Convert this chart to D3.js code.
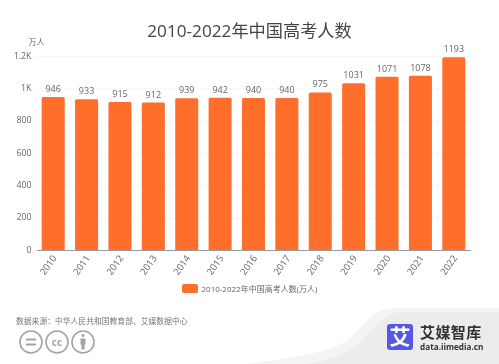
<!DOCTYPE html>
<html>
<head>
<meta charset="utf-8">
<script src="https://cdn.jsdelivr.net/npm/d3@7"></script>
<style>
  html, body { margin: 0; padding: 0; background: #fff; }
  svg { display: block; filter: blur(0.3px); }
  text { font-family: "Open Sans", "Noto Sans CJK SC", sans-serif; }
</style>
</head>
<body>
<svg id="chart" width="499" height="364"></svg>
<script>
const years = ['2010', '2011', '2012', '2013', '2014', '2015', '2016', '2017', '2018', '2019', '2020', '2021', '2022'];
const applicants = [946, 933, 915, 912, 939, 942, 940, 940, 975, 1031, 1071, 1078, 1193];
const yTicks = [0, 200, 400, 600, 800, 1000, 1200];
const yTickLabels = ['0', '200', '400', '600', '800', '1K', '1.2K'];

const titleText = '2010-2022年中国高考人数';
const unitText = '万人';
const legendText = '2010-2022年中国高考人数(万人)';
const sourceText = '数据来源：中华人民共和国教育部、艾媒数据中心';

const orange = '#ff6f2b';
const margin = {top: 56, right: 28.5, bottom: 114, left: 36.5};
const width = 499, height = 364;

const svg = d3.select('#chart');

// footer background goes under everything
svg.append('path')
  .attr('d', 'M499,308 L396,308 C374,308 365,323 350,338 C330,354 290,358 245,364 L499,364 Z')
  .attr('fill', '#f4f4f4');
svg.append('path')
  .attr('d', 'M499,312 L402,312 C384,312 375,328 360,343 C346,355 330,360 305,364 L499,364 Z')
  .attr('fill', '#ececec');

const x = d3.scaleBand().domain(years)
  .range([margin.left, width - margin.right]).paddingInner(0.31).paddingOuter(0.155);
const y = d3.scaleLinear().domain([0, 1200]).range([height - margin.bottom, margin.top]);

// grid
svg.append('g').selectAll('line').data(yTicks.slice(1)).join('line')
  .attr('x1', margin.left).attr('x2', width - margin.right)
  .attr('y1', d => y(d) + 0.5).attr('y2', d => y(d) + 0.5)
  .attr('stroke', '#ececec').attr('stroke-dasharray', '2,2');

// bars
svg.append('g').selectAll('path').data(applicants).join('path')
  .attr('fill', orange)
  .attr('d', (d, i) => {
    const x0 = x(years[i]), x1 = x0 + x.bandwidth(), top = y(d), r = 1.5;
    return `M${x0},${y(0)}V${top + r}Q${x0},${top} ${x0 + r},${top}H${x1 - r}Q${x1},${top} ${x1},${top + r}V${y(0)}Z`;
  });

// value labels
svg.append('g').selectAll('text').data(applicants).join('text')
  .attr('x', (d, i) => x(years[i]) + x.bandwidth() / 2)
  .attr('y', d => y(d) - 5)
  .attr('text-anchor', 'middle')
  .attr('font-size', 9)
  .attr('fill', '#666')
  .text(d => d);

// x axis
const xAxis = svg.append('g')
  .attr('transform', `translate(0,${y(0)})`)
  .call(d3.axisBottom(x).tickSize(0).tickPadding(0));
xAxis.select('.domain').attr('stroke', '#9a9aa5');
xAxis.selectAll('text')
  .attr('font-size', 9.5)
  .attr('fill', '#666')
  .attr('text-anchor', 'end')
  .attr('dy', 0)
  .attr('transform', 'translate(4,8) rotate(-55)');

// y axis
const yAxis = svg.append('g')
  .attr('transform', `translate(${margin.left},-0.5)`)
  .call(d3.axisLeft(y).tickValues(yTicks).tickFormat((d, i) => yTickLabels[i]).tickSize(0).tickPadding(5));
yAxis.select('.domain').remove();
yAxis.selectAll('text').attr('font-size', 8.8).attr('fill', '#666');

svg.append('text').attr('x', 36.5).attr('y', 44.5).attr('text-anchor', 'middle')
  .attr('font-size', 8).attr('fill', '#666').text(unitText);

// title
svg.append('text').attr('x', 249.5).attr('y', 36.5).attr('text-anchor', 'middle')
  .attr('font-size', 17.2).attr('fill', '#444').text(titleText);

// legend
svg.append('rect').attr('x', 182).attr('y', 284).attr('width', 16).attr('height', 9)
  .attr('rx', 2).attr('fill', orange);
svg.append('text').attr('x', 201.5).attr('y', 291.5)
  .attr('font-size', 8).attr('fill', '#666').text(legendText);

// source
svg.append('text').attr('x', 16).attr('y', 324)
  .attr('font-size', 7.8).attr('fill', '#777').text(sourceText);

// licence badges
const badges = svg.append('g').attr('fill', 'none').attr('stroke', '#a3a3a3').attr('stroke-width', 1.6);
[31, 57, 83].forEach(cx => badges.append('circle').attr('cx', cx).attr('cy', 342).attr('r', 11));
badges.append('path').attr('d', 'M26,339.5H36M26,344.5H36').attr('stroke-width', 2);
svg.append('text').attr('x', 57).attr('y', 345.5).attr('text-anchor', 'middle')
  .attr('font-size', 10).attr('font-weight', 700).attr('fill', '#a3a3a3').text('cc');
badges.append('circle').attr('cx', 83).attr('cy', 335.5).attr('r', 1.5).attr('fill', '#a3a3a3').attr('stroke', 'none');
badges.append('path').attr('d', 'M80.5,338.5H85.5V344.5H84.5V349.5H81.5V344.5H80.5Z').attr('fill', '#a3a3a3').attr('stroke', 'none');

// logo
svg.append('rect').attr('x', 387).attr('y', 324).attr('width', 26).attr('height', 26)
  .attr('rx', 3).attr('fill', '#5558e3');
svg.append('text').attr('x', 400).attr('y', 344).attr('text-anchor', 'middle')
  .attr('font-size', 21).attr('font-weight', 700).attr('fill', '#fff').text('艾');
svg.append('text').attr('x', 420).attr('y', 338)
  .attr('font-size', 15).attr('font-weight', 700).attr('letter-spacing', 0.4).attr('fill', '#333').text('艾媒智库');
svg.append('text').attr('x', 420).attr('y', 350)
  .attr('font-size', 8.2).attr('font-weight', 700).attr('fill', '#333').text('data.iimedia.cn');
</script>
</body>
</html>
